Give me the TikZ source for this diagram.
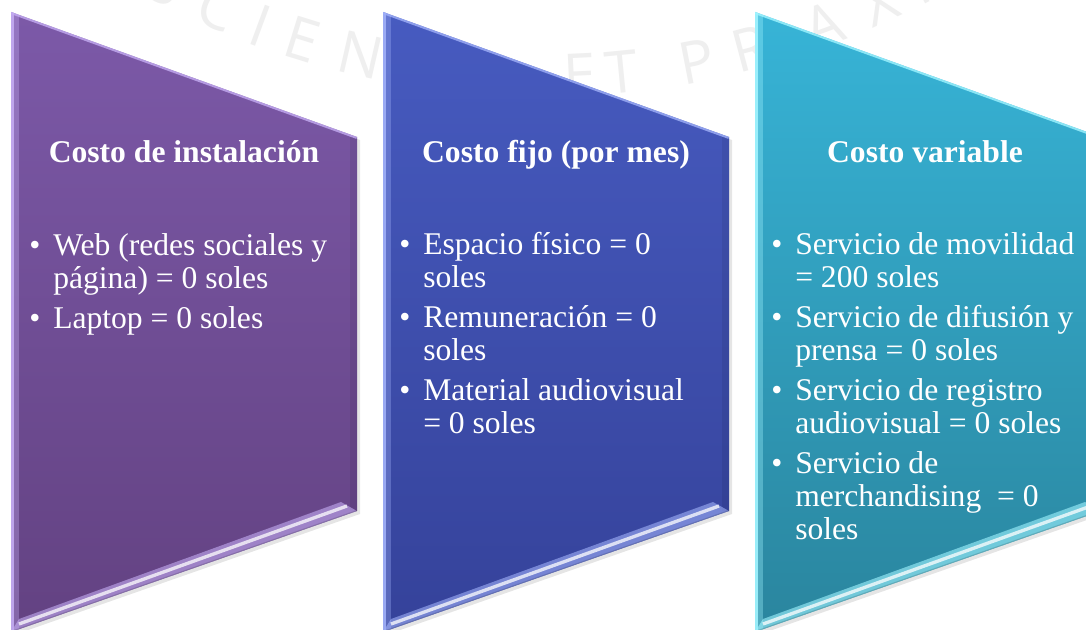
\documentclass[tikz,border=0pt]{standalone}
\usepackage{fontspec}
\setmainfont{Liberation Serif}
\newfontfamily\wmfont{Open Sans}
\usetikzlibrary{calc}
\definecolor{pAtop}{HTML}{7C59A8}
\definecolor{pAbot}{HTML}{634282}
\definecolor{pAlight}{HTML}{C4ACF2}
\definecolor{pBtop}{HTML}{475BC0}
\definecolor{pBbot}{HTML}{35429A}
\definecolor{pBlight}{HTML}{A0B0F8}
\definecolor{pCtop}{HTML}{37B4D7}
\definecolor{pCbot}{HTML}{2A859E}
\definecolor{pClight}{HTML}{A0F4FF}
\definecolor{wmgray}{HTML}{EFEFEF}
\newcommand{\bl}{\textbullet}
\newcommand{\drawpanel}[5]{%
  \coordinate (#1a) at (#2,12);
  \coordinate (#1b) at (#2+346,137);
  \coordinate (#1c) at (#2+346,511);
  \coordinate (#1d) at (#2,632);
  \fill[black, opacity=0.10] ($(#1a)+(3,3)$) -- ($(#1b)+(3,3)$) -- ($(#1c)+(3,3)$) -- ($(#1d)+(3,3)$) -- cycle;
  \shade[top color=#3, bottom color=#4] (#1a) -- (#1b) -- (#1c) -- (#1d) -- cycle;
  \begin{scope}
    \clip (#1a) -- (#1b) -- (#1c) -- (#1d) -- cycle;
    \draw[line width=10pt, black, opacity=0.07] (#1b) -- (#1c);
    \draw[line width=12pt, #5, opacity=0.35] (#1a) -- (#1d);
    \draw[line width=4pt, #5, opacity=0.9] (#1a) -- (#1d);
    \draw[line width=3pt, #5, opacity=0.8] (#1a) -- (#1b);
    \fill[#5, opacity=0.6] (#1d) -- (#1c) -- ($(#1c)+(-16,-9)$) -- ($(#1d)+(8,-13)$) -- cycle;
    \draw[line width=2.5pt, white, opacity=0.75] ($(#1d)+(8,-8)$) -- ($(#1c)+(-10,-5)$);
    \draw[line width=1.5pt, black, opacity=0.15] (#1d) -- (#1c);
  \end{scope}}
\begin{document}
\begin{tikzpicture}[x=0.75pt,y=-0.75pt,
  titletext/.style={font=\rmfamily\fontsize{23.7}{25}\selectfont\bfseries, text=white, inner sep=0pt, anchor=base},
  bodytext/.style={font=\rmfamily\fontsize{23.7}{24.75}\selectfont, text=white, inner sep=0pt, anchor=base west},
  wm/.style={font=\wmfont\fontsize{44}{44}\selectfont, text=wmgray, inner sep=0pt}]
\useasboundingbox (0,0) rectangle (1086,630);
\clip (0,0) rectangle (1086,630);
\fill[white] (0,0) rectangle (1086,630);
% watermark
\foreach \ch/\ang [count=\i] in {S/-27.6, C/-23.6, I/-20.3, E/-17.2, N/-12.9, T/-9.4, I/-6.9, A/-3.6, E/2.7, T/5.6, P/11.0, R/14.9, A/20.3, X/24.6, I/27.6, S/30.3}
  \node[wm, rotate=\ang] (wm\i) at ({542+811*sin(\ang)},{-735+811*cos(\ang)}) {\ch};
% panels
\drawpanel{p1}{11}{pAtop}{pAbot}{pAlight}
\drawpanel{p2}{383}{pBtop}{pBbot}{pBlight}
\drawpanel{p3}{755}{pCtop}{pCbot}{pClight}
% titles
\node[titletext] (t1) at (184,163) {Costo de instalación};
\node[titletext] (t2) at (556,163) {Costo fijo (por mes)};
\node[titletext] (t3) at (925,163) {Costo variable};
% bodies
\node[bodytext] (b1) at (29,256) {\begin{tabular}[t]{@{}p{18pt}@{}l@{}}
\bl & Web (redes sociales y\\
    & página) = 0 soles\\[5.25pt]
\bl & Laptop = 0 soles
\end{tabular}};
\node[bodytext] (b2) at (399,255) {\begin{tabular}[t]{@{}p{18pt}@{}l@{}}
\bl & Espacio físico = 0\\
    & soles\\[5.25pt]
\bl & Remuneración = 0\\
    & soles\\[5.25pt]
\bl & Material audiovisual\\
    & = 0 soles
\end{tabular}};
\node[bodytext] (b3) at (771,255) {\begin{tabular}[t]{@{}p{18pt}@{}l@{}}
\bl & Servicio de movilidad\\
    & = 200 soles\\[5.25pt]
\bl & Servicio de difusión y\\
    & prensa = 0 soles\\[5.25pt]
\bl & Servicio de registro\\
    & audiovisual = 0 soles\\[5.25pt]
\bl & Servicio de\\
    & merchandising \ = 0\\
    & soles
\end{tabular}};
\end{tikzpicture}
\end{document}
